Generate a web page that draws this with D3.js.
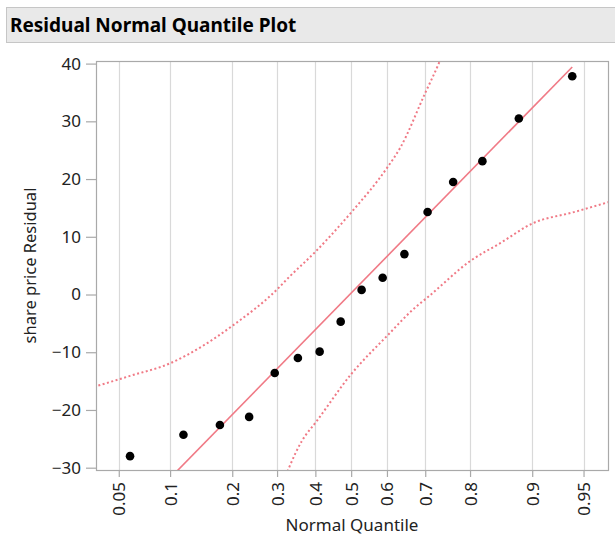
<!DOCTYPE html>
<html>
<head>
<meta charset="utf-8">
<script src="https://cdn.jsdelivr.net/npm/d3@7"></script>
<style>
  body { margin: 0; background: #fff; }
  svg { display: block; font-family: "Noto Sans", "Open Sans", sans-serif; }
</style>
</head>
<body>
<div id="chart"></div>
<script>
// normal quantile (z) of each ordered residual
var quantiles = [-1.565, -1.187, -0.929, -0.722, -0.541, -0.377, -0.223, -0.074,
                 0.074, 0.223, 0.377, 0.541, 0.722, 0.929, 1.187, 1.565];
var residuals = [-28.0, -24.3, -22.6, -21.2, -13.6, -11.0, -9.9, -4.7,
                 0.8, 2.9, 7.0, 14.3, 19.5, 23.1, 30.5, 37.8];

// reference line (mean + sd * z)
var fitZ = [-1.565, 1.565];
var fitV = [-38.9, 39.4];

// confidence band, upper and lower dotted curves
var upperZ = [-1.82, -1.565, -1.28, -1.05, -0.834, -0.536, -0.432, -0.253, -0.149, 0, 0.253, 0.347, 0.524, 0.618, 0.70];
var upperV = [-16.0, -14.1, -11.9, -8.9, -5.3, 0.6, 3.2, 7.4, 10.1, 14.2, 21.9, 25.4, 34.9, 39.9, 45.0];
var lowerZ = [-0.70, -0.618, -0.524, -0.347, -0.243, 0, 0.253, 0.465, 0.536, 0.843, 1.055, 1.291, 1.565, 1.82];
var lowerV = [-45.0, -39.8, -34.8, -25.3, -21.9, -13.8, -7.2, -2.0, -0.6, 5.8, 8.9, 12.4, 14.2, 16.0];

var xTickProbs = [0.05, 0.1, 0.2, 0.3, 0.4, 0.5, 0.6, 0.7, 0.8, 0.9, 0.95];
var xTickLabels = ["0.05", "0.1", "0.2", "0.3", "0.4", "0.5", "0.6", "0.7", "0.8", "0.9", "0.95"];
var yTicks = [-30, -20, -10, 0, 10, 20, 30, 40];

var title = "Residual Normal Quantile Plot";
var xLabel = "Normal Quantile";
var yLabel = "share price Residual";

// inverse normal cdf (Acklam), used to place the probability ticks
function probit(p) {
  var a = [-39.69683028665376, 220.9460984245205, -275.9285104469687, 138.3577518672690, -30.66479806614716, 2.506628277459239];
  var b = [-54.47609879822406, 161.5858368580409, -155.6989798598866, 66.80131188771972, -13.28068155288572];
  var c = [-0.007784894002430293, -0.3223964580411365, -2.400758277161838, -2.549732539343734, 4.374664141464968, 2.938163982698783];
  var d = [0.007784695709041462, 0.3224671290700398, 2.445134137142996, 3.754408661907416];
  var q, r;
  if (p < 0.02425) {
    q = Math.sqrt(-2 * Math.log(p));
    return (((((c[0]*q+c[1])*q+c[2])*q+c[3])*q+c[4])*q+c[5]) / ((((d[0]*q+d[1])*q+d[2])*q+d[3])*q+1);
  } else if (p > 1 - 0.02425) {
    q = Math.sqrt(-2 * Math.log(1 - p));
    return -(((((c[0]*q+c[1])*q+c[2])*q+c[3])*q+c[4])*q+c[5]) / ((((d[0]*q+d[1])*q+d[2])*q+d[3])*q+1);
  }
  q = p - 0.5; r = q * q;
  return (((((a[0]*r+a[1])*r+a[2])*r+a[3])*r+a[4])*r+a[5])*q / (((((b[0]*r+b[1])*r+b[2])*r+b[3])*r+b[4])*r+1);
}

var width = 615, height = 537;
var margin = { top: 61, right: 7, bottom: 67, left: 96 };
var pw = width - margin.left - margin.right;
var ph = height - margin.top - margin.bottom;

var svg = d3.select("#chart").append("svg")
  .attr("width", width)
  .attr("height", height);

/* title bar */
svg.append("rect")
  .attr("x", 6.5).attr("y", 7.5)
  .attr("width", 620).attr("height", 35)
  .attr("fill", "#e9e9e9")
  .attr("stroke", "#c6c6c6");
svg.append("text")
  .attr("x", 10).attr("y", 32)
  .attr("font-size", 19)
  .attr("font-weight", "bold")
  .attr("fill", "#000")
  .text(title);

var x = d3.scaleLinear().domain([-1.806, 1.818]).range([0, pw]);
var y = d3.scaleLinear().domain([-30.4, 40.45]).range([ph, 0]);

var g = svg.append("g")
  .attr("transform", "translate(" + margin.left + "," + margin.top + ")");

g.append("clipPath").attr("id", "clip")
  .append("rect").attr("width", pw).attr("height", ph);

// vertical grid at the probability ticks
var xTickZ = xTickProbs.map(probit);
g.selectAll(".grid")
  .data(xTickZ)
  .enter().append("line")
  .attr("class", "grid")
  .attr("x1", function (d) { return Math.round(x(d)) + 0.5; })
  .attr("x2", function (d) { return Math.round(x(d)) + 0.5; })
  .attr("y1", 0).attr("y2", ph)
  .attr("stroke", "#d9d9d9")
  .attr("stroke-width", 1.2);

// frame
g.append("rect")
  .attr("x", 0.5).attr("y", 0.5)
  .attr("width", pw).attr("height", ph)
  .attr("fill", "none")
  .attr("stroke", "#a9a9a9")
  .attr("stroke-width", 1.2);

// axes
var yAxis = g.append("g")
  .call(d3.axisLeft(y).tickValues(yTicks).tickSize(10).tickPadding(5).tickFormat(d3.format("d")));
var xAxis = g.append("g")
  .attr("transform", "translate(0," + ph + ")")
  .call(d3.axisBottom(x).tickValues(xTickZ).tickSize(7)
    .tickFormat(function (d, i) { return xTickLabels[i]; }));

[yAxis, xAxis].forEach(function (ax) {
  ax.select(".domain").remove();
  ax.selectAll("line").attr("stroke", "#a9a9a9").attr("stroke-width", 1.2);
  ax.selectAll("text")
    .attr("font-size", 17)
    .attr("font-family", "Noto Sans, sans-serif")
    .attr("fill", "#222");
});
xAxis.selectAll("text")
  .attr("transform", "rotate(-90)")
  .attr("text-anchor", "end")
  .attr("x", -12)
  .attr("y", 0)
  .attr("dy", "0.35em");

var plot = g.append("g").attr("clip-path", "url(#clip)");

var line = d3.line()
  .x(function (d) { return x(d[0]); })
  .y(function (d) { return y(d[1]); });

// confidence curves
var curve = d3.line()
  .curve(d3.curveMonotoneX)
  .x(function (d) { return x(d[0]); })
  .y(function (d) { return y(d[1]); });

[[upperZ, upperV], [lowerZ, lowerV]].forEach(function (band) {
  plot.append("path")
    .datum(d3.zip(band[0], band[1]))
    .attr("d", curve)
    .attr("fill", "none")
    .attr("stroke", "#f07a86")
    .attr("stroke-width", 2)
    .attr("stroke-dasharray", "2,2.5");
});

plot.append("path")
  .datum(d3.zip(fitZ, fitV))
  .attr("d", line)
  .attr("fill", "none")
  .attr("stroke", "#f07a86")
  .attr("stroke-width", 1.6);

// points
plot.selectAll(".dot")
  .data(d3.zip(quantiles, residuals))
  .enter().append("circle")
  .attr("class", "dot")
  .attr("cx", function (d) { return x(d[0]); })
  .attr("cy", function (d) { return y(d[1]); })
  .attr("r", 4.3)
  .attr("fill", "#000");

// axis titles
svg.append("text")
  .attr("x", margin.left + pw / 2)
  .attr("y", 531)
  .attr("text-anchor", "middle")
  .attr("font-size", 17)
  .attr("fill", "#222")
  .text(xLabel);

svg.append("text")
  .attr("transform", "translate(36," + (margin.top + ph / 2) + ") rotate(-90)")
  .attr("text-anchor", "middle")
  .attr("font-size", 16.5)
  .attr("fill", "#222")
  .text(yLabel);
</script>
</body>
</html>
